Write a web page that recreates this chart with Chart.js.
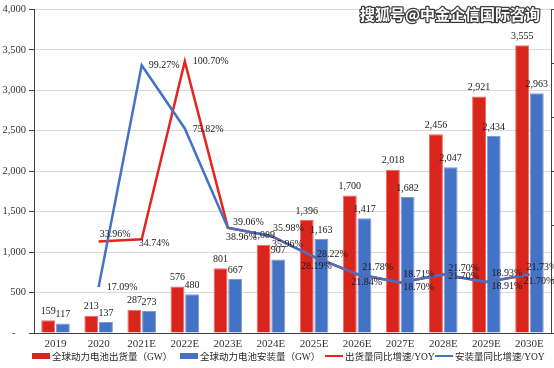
<!DOCTYPE html>
<html>
<head>
<meta charset="utf-8">
<script src="https://cdn.jsdelivr.net/npm/chart.js@4.4.1/dist/chart.umd.min.js"></script>
<style>
    html, body { margin: 0; padding: 0; background: #fff; }
    #wrap { position: relative; width: 554px; height: 368px; overflow: hidden; }
    #wrap canvas { position: absolute; left: 0; top: 0; }
    .legend-item {
        position: absolute; top: 349px; height: 14px;
        display: flex; align-items: center; white-space: nowrap;
        font: 9.5px "Liberation Serif", "Noto Sans CJK SC", serif; color: #262626;
    }
    .swatch-box { width: 18px; height: 6px; margin-right: 2px; }
    .swatch-line { width: 18px; height: 2.5px; margin-right: 2px; }
</style>
</head>
<body>
<div id="wrap">
    <canvas id="chart" width="554" height="368"></canvas>
    <div class="legend-item" style="left:32px"><span class="swatch-box" style="background:#DA251D"></span>全球动力电池出货量（GW）</div>
    <div class="legend-item" style="left:180px"><span class="swatch-box" style="background:#4472C4"></span>全球动力电池安装量（GW）</div>
    <div class="legend-item" style="left:325px"><span class="swatch-line" style="background:#E3261F"></span>出货量同比增速/YOY</div>
    <div class="legend-item" style="left:435px"><span class="swatch-line" style="background:#4472C4"></span>安装量同比增速/YOY</div>
</div>
<script>
// Categories and series
const years = ['2019', '2020', '2021E', '2022E', '2023E', '2024E', '2025E', '2026E', '2027E', '2028E', '2029E', '2030E'];
const shipments = [159, 213, 287, 576, 801, 1089, 1396, 1700, 2018, 2456, 2921, 3555];
const installs = [117, 137, 273, 480, 667, 907, 1163, 1417, 1682, 2047, 2434, 2963];
const shipYoY = [null, 33.96, 34.74, 100.70, 39.06, 35.96, 28.19, 21.78, 18.71, 21.70, 18.93, 21.70];
const installYoY = [null, 17.09, 99.27, 75.82, 38.96, 35.98, 28.22, 21.84, 18.70, 21.70, 18.91, 21.73];
const leftTicks = [0, 500, 1000, 1500, 2000, 2500, 3000, 3500, 4000];

const RED = '#DA251D';
const BLUE = '#4472C4';
const SERIF = '"Liberation Serif", "Times New Roman", serif';

// Where each percent label sits relative to its point [dx, dy]
const shipLabelOffsets = [null, [1, -7], [-3, 4], [8, 0], [5, -5], [1, 8], [-13, 9], [5, -7], [3, -8], [5, -6], [5, -9], [-6, 7]];
const installLabelOffsets = [null, [8, 0], [7, 0], [8, 1], [-2, 9], [2, -8], [3, -3], [-6, 8], [3, 5], [5, 2], [5, 4], [-3, -7]];

const labelPlugin = {
    id: 'valueLabels',
    afterDatasetsDraw(chart) {
        const ctx = chart.ctx;
        ctx.save();
        ctx.fillStyle = '#1a1a1a';
        ctx.textBaseline = 'middle';
        ctx.font = '10px ' + SERIF;

        // Bar values above each bar
        ctx.textAlign = 'center';
        [0, 1].forEach(di => {
            chart.getDatasetMeta(di).data.forEach((bar, i) => {
                const v = chart.data.datasets[di].data[i];
                ctx.fillText(v.toLocaleString('en-US'), bar.x, bar.y - 9);
            });
        });

        // Percent labels next to line points
        ctx.textAlign = 'left';
        [[2, shipLabelOffsets], [3, installLabelOffsets]].forEach(([di, offs]) => {
            chart.getDatasetMeta(di).data.forEach((pt, i) => {
                const v = chart.data.datasets[di].data[i];
                if (v === null || !offs[i]) return;
                ctx.fillText(v.toFixed(2) + '%', pt.x + offs[i][0], pt.y + offs[i][1]);
            });
        });

        // Watermark
        ctx.font = 'bold 15px "Noto Sans CJK SC", sans-serif';
        ctx.textAlign = 'right';
        ctx.lineJoin = 'round';
        ctx.lineWidth = 2.5;
        ctx.strokeStyle = '#3a3a3a';
        ctx.strokeText('搜狐号@中金企信国际咨询', 540, 14);
        ctx.fillStyle = '#ffffff';
        ctx.fillText('搜狐号@中金企信国际咨询', 540, 14);
        ctx.restore();
    }
};

const chart = new Chart(document.getElementById('chart'), {
    type: 'bar',
    data: {
        labels: years,
        datasets: [
            {
                label: '全球动力电池出货量（GW）',
                data: shipments,
                backgroundColor: RED,
                borderColor: '#EE6A63',
                borderWidth: 1,
                yAxisID: 'y',
                order: 2,
                categoryPercentage: 0.68,
                barPercentage: 0.95,
            },
            {
                label: '全球动力电池安装量（GW）',
                data: installs,
                backgroundColor: BLUE,
                borderColor: '#7C9BD6',
                borderWidth: 1,
                yAxisID: 'y',
                order: 3,
                categoryPercentage: 0.68,
                barPercentage: 0.95,
            },
            {
                type: 'line',
                label: '出货量同比增速/YOY',
                data: shipYoY,
                borderColor: '#E3261F',
                borderWidth: 2.5,
                pointRadius: 0,
                tension: 0,
                yAxisID: 'y2',
                order: 1,
            },
            {
                type: 'line',
                label: '安装量同比增速/YOY',
                data: installYoY,
                borderColor: BLUE,
                borderWidth: 2.5,
                pointRadius: 0,
                tension: 0,
                yAxisID: 'y2',
                order: 0,
            },
        ],
    },
    options: {
        responsive: false,
        animation: false,
        layout: { padding: { top: 7, right: 0, bottom: 15, left: 0 } },
        plugins: {
            legend: { display: false },
            tooltip: { enabled: false },
        },
        scales: {
            x: {
                grid: { display: false, drawTicks: false },
                border: { display: true, color: '#404040', width: 1 },
                ticks: {
                    padding: 5,
                    color: '#333333',
                    font: { family: SERIF, size: 11 },
                    maxRotation: 0,
                },
                afterFit: (s) => { s.height = 20; },
            },
            y: {
                position: 'left',
                min: 0,
                max: 4000,
                afterBuildTicks: (s) => { s.ticks = leftTicks.map(v => ({ value: v })); },
                grid: { color: '#D9D9D9', lineWidth: 1, tickColor: '#404040', tickLength: 5 },
                border: { display: true, color: '#404040', width: 1 },
                ticks: {
                    padding: 3,
                    color: '#333333',
                    font: { family: SERIF, size: 10.5 },
                    callback: (v) => v === 0 ? '-    ' : v.toLocaleString('en-US'),
                },
                afterFit: (s) => { s.width = 34; },
            },
            y2: {
                position: 'right',
                min: 0,
                max: 120,
                ticks: { display: false, stepSize: 20 },
                grid: { drawOnChartArea: false, tickColor: '#404040', tickLength: 3 },
                border: { display: true, color: '#404040', width: 1 },
                afterFit: (s) => { s.width = 3; },
            },
        },
    },
    plugins: [labelPlugin],
});
</script>
</body>
</html>
